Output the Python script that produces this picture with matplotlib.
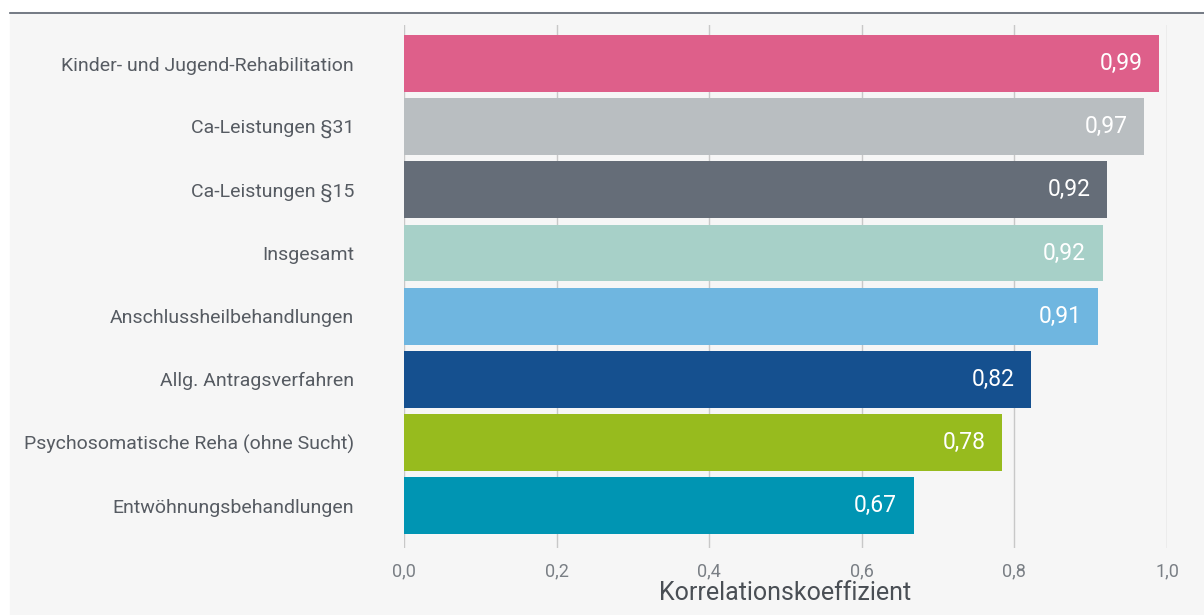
import matplotlib.pyplot as plt
from matplotlib.lines import Line2D

# Korrelation nach Leistungsbereich
categories = [
    "Kinder- und Jugend-Rehabilitation",
    "Ca-Leistungen §31",
    "Ca-Leistungen §15",
    "Insgesamt",
    "Anschlussheilbehandlungen",
    "Allg. Antragsverfahren",
    "Psychosomatische Reha (ohne Sucht)",
    "Entwöhnungsbehandlungen",
]
values = [0.99, 0.97, 0.922, 0.916, 0.91, 0.822, 0.784, 0.668]
colors = ["#de5f8a", "#b9bec1", "#656d78", "#a7d0c8",
          "#6fb6e0", "#15508f", "#97bb1e", "#0095b3"]
ticks = [0.0, 0.2, 0.4, 0.6, 0.8, 1.0]
tick_labels = ["0,0", "0,2", "0,4", "0,6", "0,8", "1,0"]

plt.rcParams['font.family'] = ['Roboto', 'DejaVu Sans']

W, H = 1204, 615
fig = plt.figure(figsize=(W / 100, H / 100), dpi=100)
fig.patch.set_facecolor("white")

# grauer Hintergrund mit dunkler Linie oben
fig.add_artist(plt.Rectangle((10 / W, 0), 1 - 10 / W, 1 - 12 / H,
                             transform=fig.transFigure, color="#f6f6f6", zorder=0))
fig.add_artist(Line2D([10 / W, 1], [1 - 12.5 / H, 1 - 12.5 / H],
                      transform=fig.transFigure, color="#5d6470", lw=1.2))

left, right = 404, 1167
top, bottom = 25, 548
ax = fig.add_axes([left / W, 1 - bottom / H, (right - left) / W, (bottom - top) / H])
ax.set_facecolor("none")

y = list(range(len(categories)))
ax.barh(y, values, height=0.9, color=colors, zorder=2)
ax.set_xlim(0, 1.0)
ax.set_ylim(7.67, -0.61)

for yi, v in zip(y, values):
    ax.text(v - 0.022, yi, f"{v:.2f}".replace(".", ","), ha="right", va="center",
            color="white", fontsize=16.5, zorder=3)

ax.set_yticks(y)
ax.set_yticklabels(categories, fontsize=14, color="#565b62")
ax.tick_params(axis="y", length=0, pad=36)

ax.set_xticks(ticks)
ax.set_xticklabels(tick_labels, fontsize=13, color="#7a7f85")
ax.tick_params(axis="x", length=0, pad=10)
ax.grid(axis="x", color="#c8c8c8", lw=1, zorder=1)
ax.set_axisbelow(True)
for s in ax.spines.values():
    s.set_visible(False)

ax.set_xlabel("Korrelationskoeffizient", fontsize=18, color="#4a4f55", labelpad=1)

fig.savefig("out.png", dpi=100)
